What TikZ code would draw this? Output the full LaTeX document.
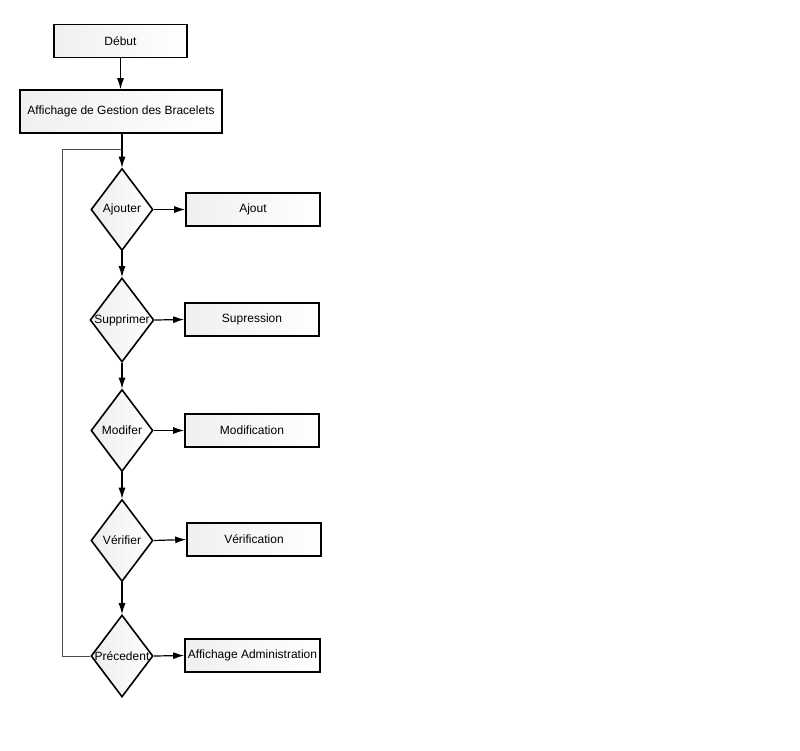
\documentclass[tikz,border=0pt]{standalone}
\usepackage{fontspec}
\setmainfont{Liberation Sans}
\usetikzlibrary{shapes.geometric,arrows.meta}
\begin{document}
\begin{tikzpicture}[x=1pt,y=-1pt,
  font=\fontsize{12}{14}\selectfont,
  box/.style={draw=black, line width=1.6pt, left color=gray!12, right color=white, minimum height=33pt, inner sep=1pt},
  dec/.style={diamond, draw=black, line width=1.6pt, left color=gray!14, right color=white, minimum width=62pt, minimum height=82pt, inner sep=0pt, aspect=0.76},
  arr/.style={line width=1.2pt, -{Latex[length=11pt,width=7pt]}},
  ln/.style={line width=0.9pt, draw=black!70}]
\useasboundingbox (0,0) rectangle (800,750);
\node[box, minimum width=133pt] (debut) at (120.5,41) {Début};
\node[box, minimum width=202pt, minimum height=43pt] (aff) at (121,111.5) {Affichage de Gestion des Bracelets};
\node[dec] (aj) at (122,209.5) {Ajouter};
\node[dec] (sup) at (122,320) {Supprimer};
\node[dec] (mod) at (122,430.5) {Modifer};
\node[dec] (ver) at (122,540.5) {Vérifier};
\node[dec] (prec) at (122,656) {Précedent};
\node[box, minimum width=134pt] (ajout) at (253,209.5) {Ajout};
\node[box, minimum width=134pt] (supr) at (252,319.5) {Supression};
\node[box, minimum width=134pt] (modif) at (252,430.5) {Modification};
\node[box, minimum width=134pt] (verif) at (254,539.5) {Vérification};
\node[box, minimum width=135pt] (adm) at (252.5,655.5) {Affichage Administration};
\coordinate (j) at (122,149);
\coordinate (c) at (62,656);
\draw[arr] (debut) -- (debut.south |- aff.north);
\draw[arr] (aff.south -| aj.north) -- (aj.north);
\draw[ln] (prec.west) -- (c) |- (j);
\draw[arr] (aj) -- (sup);
\draw[arr] (sup) -- (mod);
\draw[arr] (mod) -- (ver);
\draw[arr] (ver) -- (prec);
\draw[arr] (aj.east) -- (ajout.west);
\draw[arr] (sup.east) -- (supr.west);
\draw[arr] (mod.east) -- (modif.west);
\draw[arr] (ver.east) -- (verif.west);
\draw[arr] (prec.east) -- (adm.west);
\end{tikzpicture}
\end{document}
